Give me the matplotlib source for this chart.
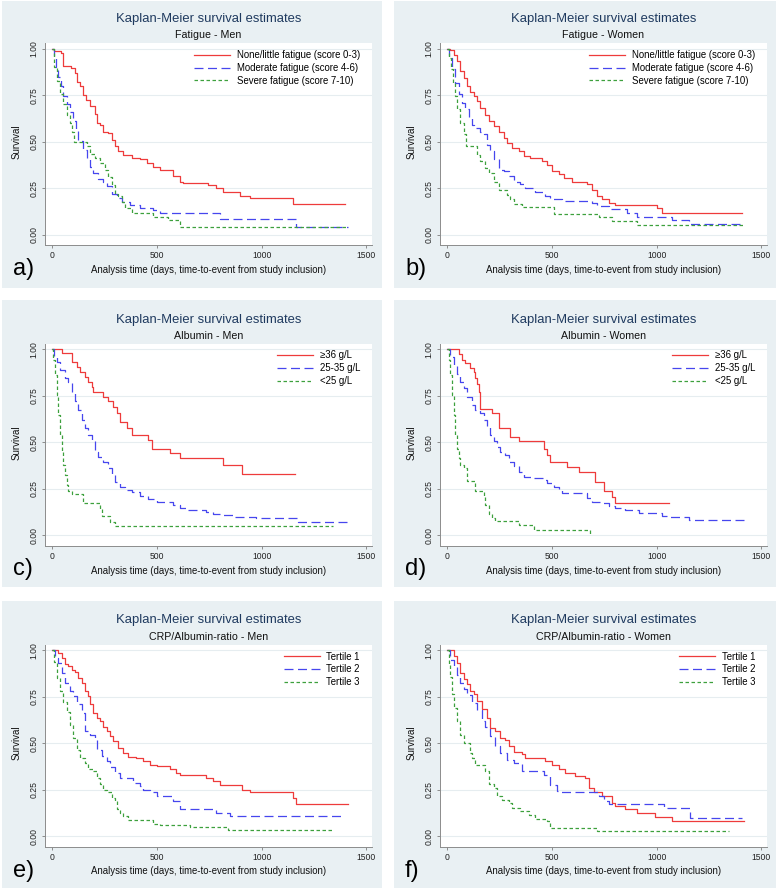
import matplotlib
matplotlib.use("Agg")
import matplotlib.pyplot as plt
from matplotlib.patches import Rectangle

plt.rcParams['font.family'] = ['Liberation Sans', 'DejaVu Sans']

# ---- data (days, survival), step points ----
# a) Fatigue - Men
a_red_t = [0, 8, 40, 52, 87, 108, 119, 132, 145, 161, 180, 204, 212, 227, 243, 267, 283, 299, 315, 339, 379,
           418, 450, 482, 514, 577, 609, 625, 744, 784, 816, 896, 943, 1150, 1397]
a_red_s = [1.0, .99, .977, .91, .895, .87, .82, .80, .75, .725, .69, .65, .60, .59, .555, .545, .51, .475, .45, .43,
           .415, .405, .385, .365, .345, .315, .285, .275, .265, .25, .23, .21, .195, .165, .165]
a_blue_t = [0, 8, 17, 29, 41, 52, 68, 84, 100, 113, 124, 148, 164, 180, 196, 220, 243, 259, 283, 307, 331, 371,
            418, 482, 514, 800, 1166, 1413]
a_blue_s = [1.0, .95, .905, .85, .80, .745, .705, .66, .61, .565, .505, .455, .405, .365, .33, .30, .285, .26, .22,
            .195, .175, .16, .145, .13, .117, .081, .041, .041]
a_green_t = [0, 8, 21, 37, 52, 68, 84, 92, 103, 164, 180, 204, 227, 251, 267, 283, 299, 315, 331, 347, 379, 482,
             554, 609, 1405]
a_green_s = [1.0, .905, .83, .76, .705, .645, .60, .555, .50, .475, .435, .41, .385, .345, .31, .265, .22, .205,
             .175, .145, .115, .095, .077, .04, .04]

# b) Fatigue - Women
b_red_t = [0, 14, 30, 46, 62, 78, 94, 110, 126, 142, 158, 181, 197, 221, 245, 269, 285, 309, 341, 365, 396, 452,
           476, 500, 532, 556, 595, 667, 691, 715, 739, 771, 802, 1001, 1025, 1407]
b_red_s = [1.0, .995, .97, .935, .88, .845, .80, .77, .745, .72, .68, .645, .61, .585, .555, .52, .495, .465, .45,
           .425, .41, .395, .375, .34, .325, .305, .285, .27, .24, .205, .19, .17, .158, .145, .117, .117]
b_blue_t = [0, 10, 22, 38, 54, 70, 86, 102, 118, 126, 158, 174, 189, 205, 221, 245, 269, 293, 317, 349, 373, 420,
            468, 492, 548, 691, 715, 771, 858, 906, 1073, 1153, 1415]
b_blue_s = [1.0, .95, .89, .815, .755, .71, .675, .63, .59, .575, .555, .54, .485, .45, .405, .35, .34, .315, .285,
            .27, .25, .23, .205, .19, .18, .17, .155, .135, .115, .095, .077, .054, .054]
b_green_t = [0, 6, 16, 25, 35, 46, 62, 78, 89, 142, 158, 181, 197, 221, 245, 285, 301, 317, 357, 508, 723, 786,
             906, 1415]
b_green_s = [1.0, .95, .89, .815, .745, .675, .60, .54, .475, .43, .395, .36, .33, .285, .24, .215, .19, .165, .148,
             .11, .095, .072, .05, .05]

# c) Albumin - Men
c_red_t = [0, 45, 92, 116, 132, 156, 172, 188, 196, 243, 267, 291, 307, 323, 355, 379, 458, 474, 562, 609, 816,
           904, 1158]
c_red_s = [1.0, .98, .935, .905, .88, .85, .825, .80, .77, .745, .72, .69, .655, .61, .575, .54, .51, .465, .44,
           .415, .375, .33, .33]
c_blue_t = [0, 10, 21, 37, 60, 76, 92, 108, 124, 140, 156, 172, 188, 204, 220, 243, 267, 283, 299, 323, 347, 379,
            418, 458, 498, 577, 609, 641, 736, 768, 816, 864, 975, 1174, 1420]
c_blue_s = [1.0, .96, .935, .89, .845, .825, .77, .72, .675, .62, .575, .54, .505, .45, .42, .395, .36, .325, .285,
            .26, .24, .23, .21, .195, .18, .16, .145, .135, .125, .115, .107, .095, .09, .072, .072]
c_green_t = [0, 5, 13, 21, 29, 37, 45, 52, 60, 68, 76, 92, 148, 227, 235, 275, 299, 1341]
c_green_s = [1.0, .945, .86, .755, .645, .54, .45, .375, .325, .27, .235, .22, .17, .14, .10, .072, .05, .05]

# d) Albumin - Women
d_red_t = [0, 54, 70, 86, 110, 126, 134, 142, 150, 158, 213, 245, 301, 341, 460, 476, 492, 572, 627, 707, 747,
           786, 802, 1057]
d_red_s = [1.0, .975, .945, .925, .90, .88, .845, .815, .77, .68, .655, .575, .53, .505, .465, .43, .395, .365,
           .34, .285, .235, .205, .17, .17]
d_blue_t = [0, 14, 30, 46, 62, 78, 94, 118, 134, 158, 174, 189, 205, 221, 237, 253, 277, 293, 317, 341, 365, 404,
            460, 476, 508, 532, 548, 667, 691, 739, 771, 802, 850, 914, 1025, 1065, 1153, 1415]
d_blue_s = [1.0, .96, .915, .87, .825, .79, .745, .70, .675, .655, .62, .585, .54, .505, .475, .45, .43, .395, .37,
            .34, .315, .305, .295, .28, .26, .24, .225, .20, .18, .17, .155, .145, .135, .12, .105, .095, .08, .08]
d_green_t = [0, 6, 14, 22, 30, 38, 46, 54, 62, 78, 94, 134, 174, 181, 197, 213, 229, 341, 412, 683]
d_green_s = [1.0, .945, .86, .755, .645, .54, .465, .415, .375, .36, .29, .235, .205, .16, .115, .09, .075, .055,
             .025, 0.0]

# e) CRP/Albumin-ratio - Men
e_red_t = [0, 29, 45, 60, 76, 92, 108, 124, 140, 156, 172, 180, 196, 212, 227, 243, 259, 275, 291, 315, 339, 363,
           402, 434, 466, 498, 562, 593, 609, 736, 768, 800, 904, 943, 1150, 1166, 1413]
e_red_s = [1.0, .985, .96, .925, .915, .895, .885, .85, .825, .78, .755, .71, .665, .635, .62, .59, .565, .54, .51,
           .475, .45, .425, .42, .405, .385, .375, .36, .34, .33, .315, .295, .275, .25, .235, .205, .17, .17]
e_blue_t = [0, 13, 29, 45, 60, 84, 100, 116, 140, 156, 180, 204, 212, 235, 259, 275, 299, 323, 387, 418, 434, 466,
            498, 577, 609, 784, 848, 1397]
e_blue_s = [1.0, .96, .93, .88, .825, .78, .755, .71, .665, .565, .545, .53, .465, .43, .405, .37, .34, .315, .285,
            .27, .25, .235, .215, .19, .145, .125, .11, .11]
e_green_t = [0, 8, 21, 37, 52, 68, 84, 100, 116, 132, 156, 172, 196, 212, 227, 243, 259, 283, 299, 307, 323, 339,
             363, 482, 514, 657, 840, 1341]
e_green_s = [1.0, .94, .85, .78, .725, .67, .60, .53, .465, .42, .395, .36, .35, .315, .28, .25, .235, .205, .19,
             .145, .125, .11, .085, .065, .06, .05, .035, .035]

# f) CRP/Albumin-ratio - Women
f_red_t = [0, 30, 46, 62, 78, 94, 110, 126, 142, 166, 189, 205, 229, 253, 277, 293, 317, 357, 373, 468, 500, 532,
           564, 611, 659, 675, 699, 739, 786, 802, 850, 906, 993, 1073, 1415]
f_red_s = [1.0, .97, .935, .88, .845, .82, .78, .765, .73, .685, .635, .58, .565, .53, .52, .485, .455, .44, .42,
           .405, .385, .36, .34, .325, .315, .26, .235, .215, .18, .16, .145, .125, .105, .08, .08]
f_blue_t = [0, 14, 30, 46, 62, 78, 94, 118, 142, 166, 181, 205, 229, 253, 285, 317, 357, 460, 492, 524, 540, 723,
            747, 771, 1033, 1161, 1407]
f_blue_s = [1.0, .95, .915, .87, .825, .79, .76, .715, .68, .62, .585, .54, .485, .45, .41, .395, .35, .33, .275,
            .24, .235, .215, .19, .17, .15, .095, .095]
f_green_t = [0, 6, 14, 22, 30, 46, 62, 78, 110, 118, 134, 181, 197, 221, 237, 261, 293, 309, 349, 388, 420, 476,
             492, 715, 1344]
f_green_s = [1.0, .925, .855, .765, .69, .62, .545, .50, .45, .42, .385, .35, .28, .26, .215, .195, .18, .15, .135,
             .115, .09, .08, .045, .027, .027]

fatigue_labels = ['None/little fatigue (score 0-3)', 'Moderate fatigue (score 4-6)', 'Severe fatigue (score 7-10)']
albumin_labels = ['\u226536 g/L', '25-35 g/L', '<25 g/L']
tertile_labels = ['Tertile 1', 'Tertile 2', 'Tertile 3']

subtitles = ['Fatigue - Men', 'Fatigue - Women', 'Albumin - Men', 'Albumin - Women',
             'CRP/Albumin-ratio - Men', 'CRP/Albumin-ratio - Women']
letters = ['a)', 'b)', 'c)', 'd)', 'e)', 'f)']
x_ticks = [0, 500, 1000, 1500]
y_ticks = [0, 0.25, 0.5, 0.75, 1.0]
y_ticklabels = ['0.00', '0.25', '0.50', '0.75', '1.00']

panels = [
    ([(a_red_t, a_red_s), (a_blue_t, a_blue_s), (a_green_t, a_green_s)], fatigue_labels),
    ([(b_red_t, b_red_s), (b_blue_t, b_blue_s), (b_green_t, b_green_s)], fatigue_labels),
    ([(c_red_t, c_red_s), (c_blue_t, c_blue_s), (c_green_t, c_green_s)], albumin_labels),
    ([(d_red_t, d_red_s), (d_blue_t, d_blue_s), (d_green_t, d_green_s)], albumin_labels),
    ([(e_red_t, e_red_s), (e_blue_t, e_blue_s), (e_green_t, e_green_s)], tertile_labels),
    ([(f_red_t, f_red_s), (f_blue_t, f_blue_s), (f_green_t, f_green_s)], tertile_labels),
]

# ---- style ----
BG = '#E9F0F3'
TITLE_COL = '#1F3A5F'
AX_COL = '#8C8C8C'
GRID_COL = '#E6EDF0'
line_styles = [
    dict(color='#EE3B3B', linestyle='-'),
    dict(color='#4646EE', dashes=(7.2, 3.6)),
    dict(color='#3DA03D', dashes=(2.8, 2.0)),
]

W, H = 777, 893
fig = plt.figure(figsize=(W / 100, H / 100), dpi=100)
fig.patch.set_facecolor('white')


def fx(px):
    return px / W


def fy(py):
    return 1 - py / H


col_x = [2, 394]
col_w = [380, 382]
row_y = [1, 300, 601]
row_h = 287
ax_left = [45, 440]
ax_top = [43, 343.5, 644.5]
ax_w, ax_h = 327, 202

for i, (series, labels) in enumerate(panels):
    r, c = divmod(i, 2)
    x0, y0 = col_x[c], row_y[r]
    fig.add_artist(Rectangle((fx(x0), fy(y0 + row_h)), col_w[c] / W, row_h / H,
                             transform=fig.transFigure, facecolor=BG, edgecolor='none', zorder=0))
    left, top = ax_left[c], ax_top[r]
    ax = fig.add_axes([fx(left), fy(top + ax_h), ax_w / W, ax_h / H])
    ax.set_facecolor('white')

    for (t, s), st, lab in zip(series, line_styles, labels):
        ax.plot(t, s, drawstyle='steps-post', lw=0.9, label=lab, zorder=3, **st)

    ax.set_xlim(-35, 1527)
    ax.set_ylim(-0.0566, 1.0323)
    ax.set_xticks(x_ticks)
    ax.set_xticklabels([str(v) for v in x_ticks])
    ax.set_yticks(y_ticks)
    ax.set_yticklabels(y_ticklabels)
    for lab in ax.get_yticklabels():
        lab.set_rotation(90)
        lab.set_va('center')
    ax.tick_params(length=2.5, width=0.7, color=AX_COL, labelsize=6.2, pad=2, labelcolor='#222222')
    ax.grid(axis='y', color=GRID_COL, lw=0.8, zorder=1)
    ax.set_axisbelow(True)
    for sp in ['top', 'right']:
        ax.spines[sp].set_visible(False)
    for sp in ['left', 'bottom']:
        ax.spines[sp].set_color(AX_COL)
        ax.spines[sp].set_linewidth(0.7)

    ax.legend(loc='upper right', bbox_to_anchor=(1 - 12 / ax_w, 1 - 7 / ax_h), frameon=False,
              fontsize=6.9, handlelength=3.75, handletextpad=0.7, labelspacing=0.3,
              borderpad=0, borderaxespad=0)

    cx = left + ax_w / 2
    fig.text(fx(cx), fy(top - 24), 'Kaplan-Meier survival estimates', ha='center', va='center',
             fontsize=9.4, color=TITLE_COL)
    fig.text(fx(cx), fy(top - 8), subtitles[i], ha='center', va='center', fontsize=7.7, color='#111111')
    fig.text(fx(cx), fy(top + ax_h + 25), 'Analysis time (days, time-to-event from study inclusion)',
             ha='center', va='center', fontsize=6.9, color='#111111')
    fig.text(fx(left - 28), fy(top + 6 + 185.5 / 2), 'Survival', rotation=90, ha='center', va='center',
             fontsize=7, color='#111111')
    fig.text(fx(x0 + 11), fy(top + ax_h + 24), letters[i], ha='left', va='center', fontsize=17, color='black')

fig.savefig('out.png', dpi=100, facecolor='white')
